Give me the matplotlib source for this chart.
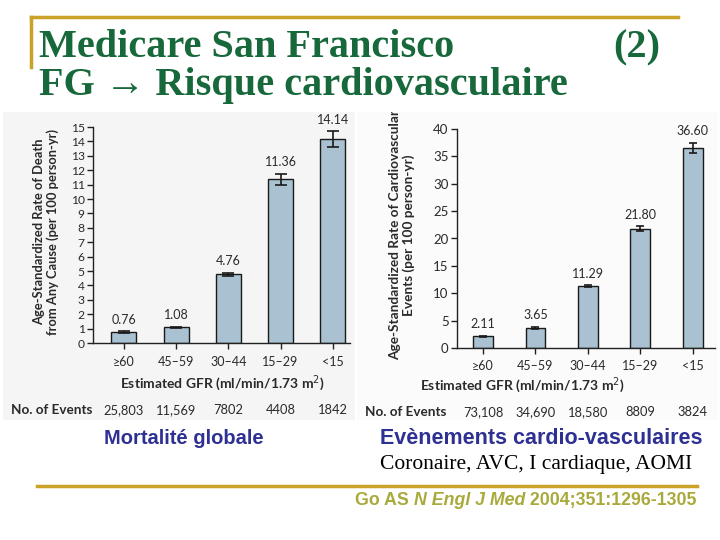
import matplotlib
matplotlib.use("Agg")
import matplotlib.pyplot as plt
from matplotlib.patches import Rectangle
from matplotlib.lines import Line2D

W, H = 720, 540

# data
gfr_groups = ["\u226560", "45\u201359", "30\u201344", "15\u201329", "<15"]
death_rate = [0.76, 1.08, 4.76, 11.36, 14.14]
death_err = [0.05, 0.06, 0.12, 0.40, 0.55]
death_events = ["25,803", "11,569", "7802", "4408", "1842"]
cv_rate = [2.11, 3.65, 11.29, 21.80, 36.60]
cv_err = [0.15, 0.20, 0.20, 0.45, 0.90]
cv_events = ["73,108", "34,690", "18,580", "8809", "3824"]

green = "#17683a"
gold = "#c9a227"
navy = "#2e3192"
olive = "#a9aa3c"
bar_col = "#a9c1d0"
txt = "#2a2a2a"
sans = "Lato"


def px(x, y):
    return x / W, 1 - y / H


def axes_px(x0, y0, x1, y1):
    return fig.add_axes([x0 / W, 1 - y1 / H, (x1 - x0) / W, (y1 - y0) / H])


fig = plt.figure(figsize=(7.2, 5.4), dpi=100)

# panel backgrounds
fig.patches.append(Rectangle(px(3, 420), 352 / W, 308 / H, transform=fig.transFigure,
                             facecolor="#f5f5f5", edgecolor="none", zorder=-10))
fig.patches.append(Rectangle(px(357, 420), 361 / W, 308 / H, transform=fig.transFigure,
                             facecolor="#fbfbfb", edgecolor="none", zorder=-10))


def draw_chart(ax, vals, errs, ymax, step, width, cap, x_left, x_right):
    x = list(range(len(vals)))
    ax.bar(x, vals, width=width, color=bar_col, edgecolor="#1a1a1a", linewidth=1.0, zorder=2)
    ax.errorbar(x, vals, yerr=errs, fmt="none", ecolor="#1a1a1a", elinewidth=1.2,
                capsize=cap, capthick=1.2, zorder=3)
    for xi, v, e in zip(x, vals, errs):
        ax.annotate(f"{v:.2f}", (xi, v + e), xytext=(0, 4), textcoords="offset points",
                    ha="center", va="bottom", fontsize=9, color=txt, family=sans)
    ax.set_xlim(x_left, x_right)
    ax.set_ylim(0, ymax)
    ax.set_yticks(range(0, ymax + 1, step))
    ax.set_xticks(x)
    ax.set_xticklabels(gfr_groups)
    ax.patch.set_alpha(0)
    for s in ("top", "right"):
        ax.spines[s].set_visible(False)
    for s in ("left", "bottom"):
        ax.spines[s].set_color("#222222")
        ax.spines[s].set_linewidth(1.0)
    ax.tick_params(axis="both", direction="out", length=4, width=1, color="#222222",
                   labelsize=9, labelcolor=txt, pad=2)
    for lab in ax.get_xticklabels() + ax.get_yticklabels():
        lab.set_family(sans)
    ax.tick_params(axis="x", pad=5)


ax1 = axes_px(93, 127, 350, 343)
draw_chart(ax1, death_rate, death_err, 15, 1, 0.48, 4, -0.593, 4.33)
ax1.tick_params(axis="y", labelsize=8.7)
ax2 = axes_px(457, 129, 715, 348)
draw_chart(ax2, cv_rate, cv_err, 40, 5, 0.38, 3, -0.495, 4.42)
ax2.tick_params(axis="y", labelsize=9.5)

# y labels
fig.text(*px(46, 232), "Age-Standardized Rate of Death\nfrom Any Cause (per 100 person-yr)",
         rotation=90, ha="center", va="center", fontsize=9.3, fontweight="bold",
         color=txt, family=sans, linespacing=1.15)
yl2 = fig.text(*px(402, 360), "Age-Standardized Rate of Cardiovascular\nEvents (per 100 person-yr)",
               rotation=90, ha="center", va="bottom", fontsize=9.8, fontweight="bold",
               color=txt, family=sans, linespacing=1.15, multialignment="center")
yl2.set_clip_path(Rectangle(px(357, 420), 361 / W, 308 / H, transform=fig.transFigure))

# x labels
fig.text(*px(222, 383), "Estimated GFR (ml/min/1.73 m$^{2}$)", ha="center", va="center",
         fontsize=10, fontweight="bold", color=txt, family=sans)
fig.text(*px(522, 385), "Estimated GFR (ml/min/1.73 m$^{2}$)", ha="center", va="center",
         fontsize=10, fontweight="bold", color=txt, family=sans)

# events rows
fig.text(*px(11, 410), "No. of Events", ha="left", va="center", fontsize=9.7,
         fontweight="bold", color=txt, family=sans)
for i, ev in enumerate(death_events):
    xf = ax1.transData.transform((i, 0))[0] / fig.dpi / 7.2
    fig.text(xf, 1 - 410 / H, ev, ha="center", va="center", fontsize=9.3, color=txt, family=sans)
fig.text(*px(365, 412), "No. of Events", ha="left", va="center", fontsize=9.7,
         fontweight="bold", color=txt, family=sans)
for i, ev in enumerate(cv_events):
    xf = ax2.transData.transform((i, 0))[0] / fig.dpi / 7.2
    fig.text(xf, 1 - 412 / H, ev, ha="center", va="center", fontsize=9.3, color=txt, family=sans)

# title and decoration
fig.add_artist(Line2D([31 / W, 678 / W], [1 - 17 / H] * 2, color=gold, lw=2.5,
                      transform=fig.transFigure))
fig.add_artist(Line2D([31 / W] * 2, [1 - 17 / H, 1 - 67 / H], color=gold, lw=2.5,
                      transform=fig.transFigure))
fig.text(*px(39, 57), "Medicare San Francisco", ha="left", va="baseline", fontsize=29,
         fontweight="bold", color=green, family="Liberation Serif")
fig.text(*px(660, 57), "(2)", ha="right", va="baseline", fontsize=29,
         fontweight="bold", color=green, family="Liberation Serif")
fig.text(*px(39, 95), "FG \u2192 Risque cardiovasculaire", ha="left", va="baseline",
         fontsize=29, fontweight="bold", color=green, family="Liberation Serif")

# captions
fig.text(*px(184, 439), "Mortalit\u00e9 globale", ha="center", va="center", fontsize=14.5,
         fontweight="bold", color=navy, family="Liberation Sans")
fig.text(*px(380, 439), "Ev\u00e8nements cardio-vasculaires", ha="left", va="center",
         fontsize=15.5, fontweight="bold", color=navy, family="Liberation Sans")
fig.text(*px(380, 465), "Coronaire, AVC, I cardiaque, AOMI", ha="left", va="center",
         fontsize=15.5, color="black", family="Liberation Serif")
fig.add_artist(Line2D([37 / W, 697 / W], [1 - 486 / H] * 2, color=gold, lw=2.5,
                      transform=fig.transFigure))

cite_y = 1 - 505 / H
t = fig.text(355 / W, cite_y, "Go AS ", ha="left", va="baseline", fontsize=12.8,
             fontweight="bold", color=olive, family="Liberation Sans")
t2 = fig.text(0, cite_y, "N Engl J Med", fontsize=12.8, fontweight="bold", style="italic",
              color=olive, family="Liberation Sans", va="baseline")
t3 = fig.text(0, cite_y, " 2004;351:1296-1305", fontsize=12.8, fontweight="bold",
              color=olive, family="Liberation Sans", va="baseline")
fig.canvas.draw()
r = fig.canvas.get_renderer()
bb = t.get_window_extent(r)
t2.set_x(bb.x1 / fig.bbox.width)
bb2 = t2.get_window_extent(r)
t3.set_x(bb2.x1 / fig.bbox.width)

fig.savefig("out.png", dpi=100)
